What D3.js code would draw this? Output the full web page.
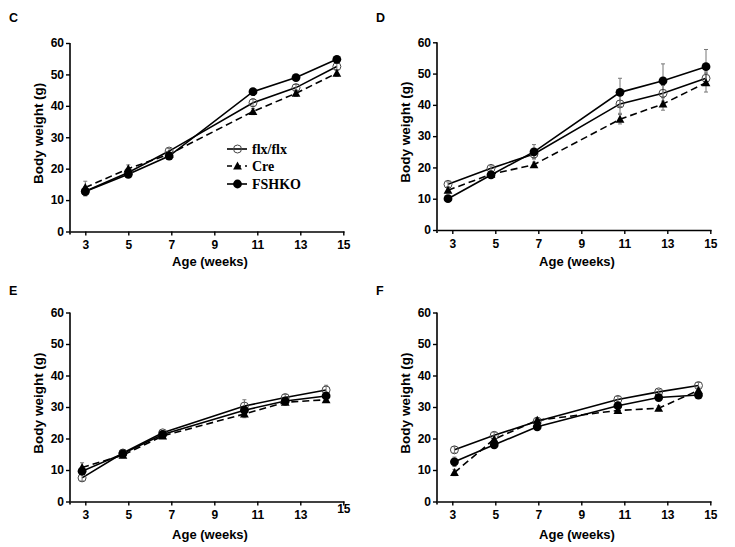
<!DOCTYPE html>
<html>
<head>
<meta charset="utf-8">
<script src="https://cdn.jsdelivr.net/npm/d3@7"></script>
<style>
  body { margin: 0; background: #fff; }
  svg { display: block; }
  .tick text { font-family: Arial, "Liberation Sans", sans-serif; font-weight: bold; font-size: 12px; fill: #000; }
</style>
</head>
<body>
<svg id="chart" width="735" height="547"></svg>
<script>
// ---------------- data ----------------
const panelLetters = ["C", "D", "E", "F"];
const seriesNames = ["flx/flx", "Cre", "FSHKO"];
const xTickValues = [3, 5, 7, 9, 11, 13, 15];
const yTickValues = [0, 10, 20, 30, 40, 50, 60];
const xLabel = "Age (weeks)";
const yLabel = "Body weight (g)";

// ages (weeks) at which each panel was measured
const agesC = [3, 5, 6.9, 10.8, 12.8, 14.7];
const agesD = [2.8, 4.8, 6.8, 10.8, 12.8, 14.8];
const agesE = [2.85, 4.75, 6.6, 10.4, 12.3, 14.2];
const agesF = [3.1, 4.95, 6.95, 10.7, 12.6, 14.45];

// body weights (g)
const flxC   = [12.8, 18.8, 25.6, 41.0, 45.8, 52.5];
const creC   = [14.0, 20.0, 24.6, 38.2, 44.0, 50.4];
const fshkoC = [12.7, 18.2, 24.0, 44.5, 49.0, 54.8];

const flxD   = [14.6, 19.7, 24.3, 40.3, 43.7, 48.5];
const creD   = [12.7, 17.8, 20.9, 35.4, 40.3, 47.1];
const fshkoD = [10.0, 17.6, 25.0, 44.0, 47.7, 52.2];

const flxE   = [7.5, 15.4, 21.8, 30.3, 33.0, 35.4];
const creE   = [10.8, 14.7, 20.8, 27.8, 31.5, 32.3];
const fshkoE = [9.6, 15.2, 21.3, 29.0, 31.9, 33.5];

const flxF   = [16.4, 21.0, 25.5, 32.4, 34.8, 36.8];
const creF   = [9.2, 19.8, 25.8, 28.9, 29.6, 35.3];
const fshkoF = [12.6, 18.0, 23.7, 30.4, 33.0, 33.8];

// error bars (g)
const flxErrC   = [1.5, 1.2, 0.8, 1.2, 1.0, 1.0];
const creErrC   = [2.0, 1.2, 0.8, 1.0, 1.0, 1.0];
const fshkoErrC = [1.0, 1.0, 0.8, 1.0, 0.8, 0.8];

const flxErrD   = [0.8, 0.8, 1.5, 3.0, 2.5, 2.0];
const creErrD   = [0.8, 0.8, 0.8, 1.5, 2.0, 3.0];
const fshkoErrD = [0.8, 0.8, 2.3, 4.5, 5.4, 5.5];

const flxErrE   = [1.0, 0.8, 0.8, 2.0, 1.0, 1.5];
const creErrE   = [1.5, 0.8, 0.8, 1.2, 0.8, 0.8];
const fshkoErrE = [1.0, 0.8, 0.8, 1.0, 0.8, 0.8];

const flxErrF   = [1.0, 1.0, 0.8, 1.0, 0.8, 1.0];
const creErrF   = [1.0, 1.0, 0.8, 0.8, 0.8, 1.0];
const fshkoErrF = [1.5, 1.0, 0.8, 1.0, 0.8, 1.0];

// ---------------- build ----------------
const panels = [
  { letter: panelLetters[0], ox: 0,   oy: 0,   yb: 231.5, yt: 43,   ages: agesC,
    vals: [flxC, creC, fshkoC], errs: [flxErrC, creErrC, fshkoErrC], legend: true, raiseLast: 0 },
  { letter: panelLetters[1], ox: 367, oy: 0,   yb: 230,   yt: 42.3, ages: agesD,
    vals: [flxD, creD, fshkoD], errs: [flxErrD, creErrD, fshkoErrD], legend: false, raiseLast: 0 },
  { letter: panelLetters[2], ox: 0,   oy: 273, yb: 228.5, yt: 39.5, ages: agesE,
    vals: [flxE, creE, fshkoE], errs: [flxErrE, creErrE, fshkoErrE], legend: false, raiseLast: 6 },
  { letter: panelLetters[3], ox: 367, oy: 273, yb: 228.5, yt: 39.5, ages: agesF,
    vals: [flxF, creF, fshkoF], errs: [flxErrF, creErrF, fshkoErrF], legend: false, raiseLast: 0 }
];

const svg = d3.select("#chart");
const axisX0 = 70, axisX1 = 344;
// x: 3 -> 85.3, 15 -> 343.3
const pxPerWeek = (343.3 - 85.3) / 12;
const xDomain = [3 - (85.3 - axisX0) / pxPerWeek, 3 + (axisX1 - 85.3) / pxPerWeek];

const styles = [
  { dash: null,  marker: "openCircle" },
  { dash: "7,4", marker: "triangle" },
  { dash: null,  marker: "filledCircle" }
];

function drawMarker(g, type, cx, cy) {
  if (type === "openCircle") {
    g.append("circle").attr("cx", cx).attr("cy", cy).attr("r", 4)
      .attr("fill", "none").attr("stroke", "#444").attr("stroke-width", 1);
  } else if (type === "filledCircle") {
    g.append("circle").attr("cx", cx).attr("cy", cy).attr("r", 4.4)
      .attr("fill", "#000");
  } else {
    const s = 4.4;
    g.append("path")
      .attr("d", `M${cx},${cy - s}L${cx + s},${cy + s * 0.8}L${cx - s},${cy + s * 0.8}Z`)
      .attr("fill", "#000");
  }
}

panels.forEach(p => {
  const g = svg.append("g").attr("transform", `translate(${p.ox},${p.oy})`);
  const x = d3.scaleLinear().domain(xDomain).range([axisX0, axisX1]);
  const y = d3.scaleLinear().domain([0, 60]).range([p.yb, p.yt]);

  // panel letter
  g.append("text").attr("x", 9).attr("y", 22).text(p.letter)
    .attr("font-family", "Arial, 'Liberation Sans', sans-serif")
    .attr("font-weight", "bold").attr("font-size", 12.5);

  // axes
  const xAxis = d3.axisBottom(x).tickValues(xTickValues).tickSize(4).tickSizeOuter(0).tickPadding(5);
  const yAxis = d3.axisLeft(y).tickValues(yTickValues).tickSize(4).tickSizeOuter(0).tickPadding(2);
  const gx = g.append("g").attr("transform", `translate(0,${p.yb})`).call(xAxis);
  const gy = g.append("g").attr("transform", `translate(${axisX0},0)`).call(yAxis);
  [gx, gy].forEach(a => {
    a.selectAll("path.domain").attr("stroke", "#000").attr("stroke-width", 1.6);
    a.selectAll(".tick line").attr("stroke", "#000").attr("stroke-width", 1.4);
  });
  if (p.raiseLast) {
    gx.selectAll(".tick text").filter(d => d === 15).attr("y", 9 - p.raiseLast);
  }
  // y axis extends slightly below the x axis
  gy.select("path.domain").attr("d", `M0,${p.yb + 3}V${p.yt}`);

  // axis labels
  g.append("text").attr("x", 210).attr("y", 266).attr("text-anchor", "middle")
    .attr("font-family", "Arial, 'Liberation Sans', sans-serif")
    .attr("font-weight", "bold").attr("font-size", 13).text(xLabel);
  g.append("text")
    .attr("transform", `translate(43,${(p.yb + p.yt) / 2 - 4}) rotate(-90)`)
    .attr("text-anchor", "middle")
    .attr("font-family", "Arial, 'Liberation Sans', sans-serif")
    .attr("font-weight", "bold").attr("font-size", 13.5).text(yLabel);

  // lines
  const line = d3.line().x(d => x(d[0])).y(d => y(d[1]));
  p.vals.forEach((vals, si) => {
    const pts = p.ages.map((a, i) => [a, vals[i]]);
    g.append("path").datum(pts).attr("d", line)
      .attr("fill", "none").attr("stroke", "#000").attr("stroke-width", 1.6)
      .attr("stroke-dasharray", styles[si].dash);
  });

  // error bars
  p.vals.forEach((vals, si) => {
    p.ages.forEach((a, i) => {
      const cx = x(a), e = p.errs[si][i];
      const y1 = y(vals[i] + e), y2 = y(vals[i] - e);
      g.append("line").attr("x1", cx).attr("x2", cx).attr("y1", y1).attr("y2", y2)
        .attr("stroke", "#777").attr("stroke-width", 1);
      [y1, y2].forEach(yy => g.append("line").attr("x1", cx - 2).attr("x2", cx + 2)
        .attr("y1", yy).attr("y2", yy).attr("stroke", "#777").attr("stroke-width", 1));
    });
  });

  // markers
  p.vals.forEach((vals, si) => {
    p.ages.forEach((a, i) => drawMarker(g, styles[si].marker, x(a), y(vals[i])));
  });

  // legend
  if (p.legend) {
    const lg = g.append("g");
    const rows = [149, 166, 184];
    seriesNames.forEach((name, si) => {
      lg.append("line").attr("x1", 227).attr("x2", 247).attr("y1", rows[si]).attr("y2", rows[si])
        .attr("stroke", "#000").attr("stroke-width", 1.6)
        .attr("stroke-dasharray", si === 1 ? "5,4" : null);
      drawMarker(lg, styles[si].marker, 237.5, rows[si]);
      lg.append("text").attr("x", 252).attr("y", rows[si] + 4.5).text(name)
        .attr("font-family", "'Liberation Serif', 'Times New Roman', serif")
        .attr("font-weight", "bold").attr("font-size", 14);
    });
  }
});
</script>
</body>
</html>
